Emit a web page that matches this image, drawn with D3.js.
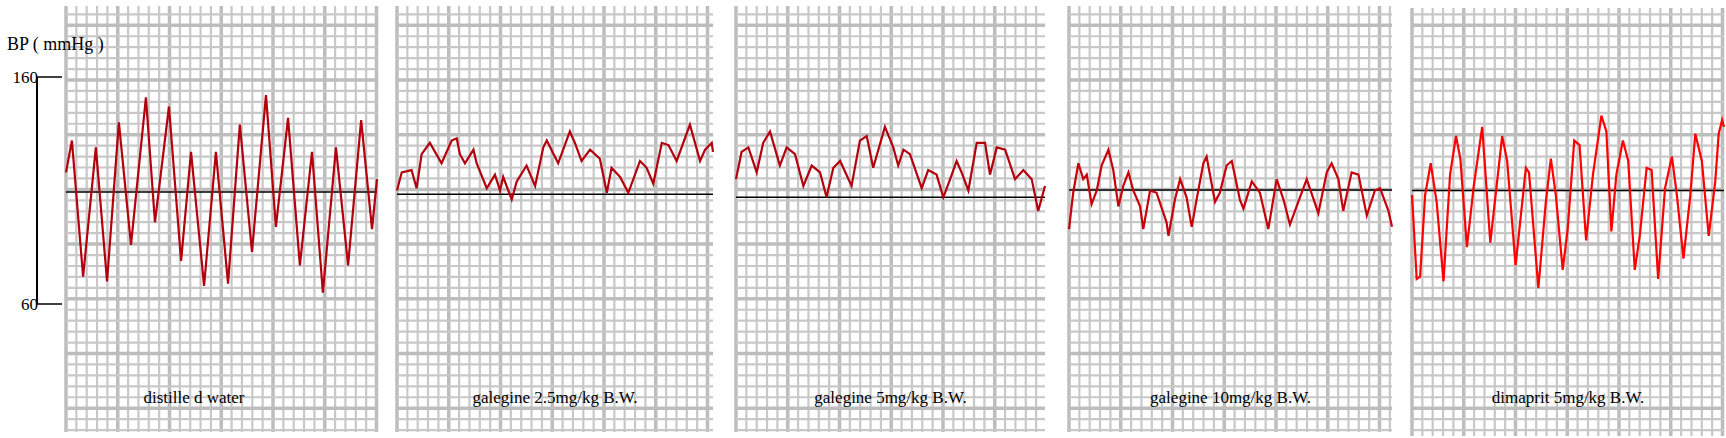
<!DOCTYPE html>
<html>
<head>
<meta charset="utf-8">
<script src="https://cdn.jsdelivr.net/npm/d3@7"></script>
<style>
  body { margin: 0; background: #fff; }
  svg text { font-family: "Liberation Serif", "DejaVu Serif", serif; fill: #000; }
</style>
</head>
<body>
<svg id="chart" width="1726" height="438"></svg>
<script>
// panel labels and reference (baseline) pressure for each recording
var labels = ["distille d water", "galegine 2.5mg/kg B.W.", "galegine 5mg/kg B.W.", "galegine 10mg/kg B.W.", "dimaprit 5mg/kg B.W."];
var baselines = [109.3, 108.4, 107, 110.2, 110];
var yTicks = [60, 160];

// traces: [time (% of recording), BP mmHg]
var distilledWater = [[0,118],[1.9,132],[5.5,72],[9.6,129],[13.2,70],[17.0,140],[20.9,86],[25.7,151],[28.6,96],[33.1,147],[37.0,79],[40.2,127],[44.4,68],[48.2,127],[52.1,69],[55.9,139],[59.8,83],[64.3,152],[67.5,94],[71.4,142],[75.2,77],[79.1,127],[82.6,65],[86.8,129],[90.7,77],[94.9,141],[98.4,93],[100,115]];
var galegine25 = [[0,110],[1.5,118],[4.6,119],[6.2,111],[7.8,126],[10.4,131],[14.1,122],[17.3,132],[18.9,133],[19.9,126],[21.5,122],[24.2,128],[25.2,122],[28.4,111],[31.0,117],[32.6,110],[33.6,116],[36.3,106],[37.9,114],[41.0,121],[43.7,112],[46.3,129],[47.4,132],[51.0,122],[54.7,136],[56.3,131],[58.4,123],[61.1,128],[64.2,124],[66.4,109],[67.9,120],[70.6,116],[73.2,109],[76.9,123],[79.0,120],[81.1,113],[83.8,131],[85.9,130],[88.5,123],[92.7,139],[95.9,123],[97.5,128],[99.6,131],[100,127]];
var galegine5 = [[0,115],[1.8,127],[4.0,129],[6.7,118],[8.8,131],[11.0,136],[14.2,121],[16.4,129],[19.1,126],[21.8,112],[24.5,121],[27.2,118],[29.3,107],[31.5,120],[33.7,123],[37.4,112],[40.1,132],[42.3,134],[44.4,120],[48.2,138],[50.9,129],[52.5,121],[54.2,128],[56.3,126],[60.1,111],[62.2,119],[64.9,117],[67.1,107],[69.3,115],[71.4,123],[73.0,118],[75.2,110],[77.9,131],[80.6,131],[82.2,117],[84.4,129],[87.1,128],[90.3,115],[93.0,119],[95.7,115],[97.8,101],[100,112]];
var galegine10 = [[0,93],[1.3,109],[2.9,122],[4.4,115],[5.5,117],[7.0,104],[8.6,110],[10.1,121],[12.2,128],[13.7,119],[15.3,103],[16.8,112],[18.4,118],[19.9,110],[22.0,103],[23.0,93],[25.1,110],[27.1,109],[30.2,96],[30.8,90],[32.8,106],[34.4,115],[36.4,107],[38.0,94],[39.5,106],[41.6,122],[42.6,125],[45.2,105],[46.7,109],[48.8,121],[50.4,123],[52.9,106],[54.0,102],[56.6,114],[59.1,109],[61.7,93],[64.3,115],[66.4,106],[68.4,95],[71.5,107],[73.6,115],[77.2,100],[79.8,118],[81.3,122],[83.4,115],[84.9,101],[87.5,118],[89.6,117],[92.2,99],[94.7,110],[96.3,111],[98.9,101],[100,94]];
var dimaprit5 = [[0,108],[1.5,71],[2.6,72],[4.2,108],[6.0,122],[7.9,105],[10.1,70],[12.2,117],[14.1,134],[15.5,124],[17.6,85],[19.8,112],[22.5,138],[25.1,87],[28.9,134],[30.5,123],[33.2,77],[36.5,120],[37.5,118],[40.5,67],[42.9,105],[44.5,124],[46.1,108],[48.3,75],[49.9,93],[52.0,132],[53.7,130],[55.8,88],[58.0,117],[60.7,143],[62.3,136],[63.9,92],[65.5,117],[67.6,132],[69.3,123],[71.4,75],[73.0,90],[75.2,120],[76.8,119],[78.9,71],[81.1,111],[83.3,125],[84.9,108],[87.0,80],[89.2,108],[90.8,135],[92.9,123],[95.1,90],[97.2,114],[98.3,135],[99.4,141],[100,138]];
var traces = [distilledWater, galegine25, galegine5, galegine10, dimaprit5];
var traceColors = ["#b3000c", "#b3000c", "#b3000c", "#c8000a", "#ff0000"];

// layout
var panels = [
  {x0: 66, x1: 377, top: 6, bottom: 432, labelX: 194},
  {x0: 397, x1: 713, top: 6, bottom: 432},
  {x0: 736, x1: 1045, top: 6, bottom: 432},
  {x0: 1069, x1: 1392, top: 6, bottom: 432},
  {x0: 1412, x1: 1724, top: 8, bottom: 436}
];

var svg = d3.select("#chart");
var y = d3.scaleLinear().domain([60, 160]).range([304, 77]);

panels.forEach(function(p, i) {
  var x = d3.scaleLinear().domain([0, 100]).range([p.x0, p.x1]);
  var g = svg.append("g");

  // graph paper
  var dx = 10.35, dy = 10.94;
  var vx = d3.range(0, Math.floor((p.x1 - p.x0) / dx) + 1).map(function(k) { return {v: p.x0 + k * dx, major: k % 5 == 0}; });
  var startY = 80 - Math.floor((80 - p.top) / dy) * dy;
  var hy = d3.range(0, Math.floor((p.bottom - startY) / dy) + 1).map(function(k) {
    var v = startY + k * dy;
    return {v: v, major: Math.round((v - 80) / dy) % 5 == 0};
  });
  g.selectAll("line.v").data(vx).enter().append("line")
    .attr("x1", function(d) { return d.v }).attr("x2", function(d) { return d.v })
    .attr("y1", p.top).attr("y2", p.bottom)
    .style("stroke", function(d) { return d.major ? "#bdbdbd" : "#c8c8c8" })
    .style("stroke-width", function(d) { return d.major ? 3.5 : 2.2 });
  g.selectAll("line.h").data(hy).enter().append("line")
    .attr("x1", p.x0).attr("x2", p.x1)
    .attr("y1", function(d) { return d.v }).attr("y2", function(d) { return d.v })
    .style("stroke", function(d) { return d.major ? "#bdbdbd" : "#c8c8c8" })
    .style("stroke-width", function(d) { return d.major ? 3.5 : 2.2 });

  // baseline
  g.append("line")
    .attr("x1", p.x0).attr("x2", p.x1)
    .attr("y1", y(baselines[i])).attr("y2", y(baselines[i]))
    .style("stroke", "#000").style("stroke-width", 1.5);

  // trace
  var line = d3.line()
    .x(function(d) { return x(d[0]) })
    .y(function(d) { return y(d[1]) });
  g.append("path").datum(traces[i])
    .attr("d", line)
    .style("fill", "none")
    .style("stroke", traceColors[i])
    .style("stroke-width", 2.2)
    .style("stroke-linejoin", "miter");

  g.append("text")
    .attr("x", p.labelX || (p.x0 + p.x1) / 2)
    .attr("y", 403)
    .attr("text-anchor", "middle")
    .style("font-size", "17px")
    .text(labels[i]);
});

// y axis
svg.append("line").attr("x1", 37).attr("x2", 37).attr("y1", y(160)).attr("y2", y(60))
  .style("stroke", "#000").style("stroke-width", 2);
svg.selectAll("line.tick").data(yTicks).enter().append("line")
  .attr("x1", 37).attr("x2", 62)
  .attr("y1", function(d) { return y(d) }).attr("y2", function(d) { return y(d) })
  .style("stroke", "#000").style("stroke-width", 1.5);
svg.selectAll("text.tick").data(yTicks).enter().append("text")
  .attr("x", 38).attr("y", function(d) { return y(d) + 6 })
  .attr("text-anchor", "end")
  .style("font-size", "17px")
  .text(function(d) { return d });
svg.append("text").attr("x", 7).attr("y", 50)
  .style("font-size", "18px")
  .text("BP ( mmHg )");
</script>
</body>
</html>
